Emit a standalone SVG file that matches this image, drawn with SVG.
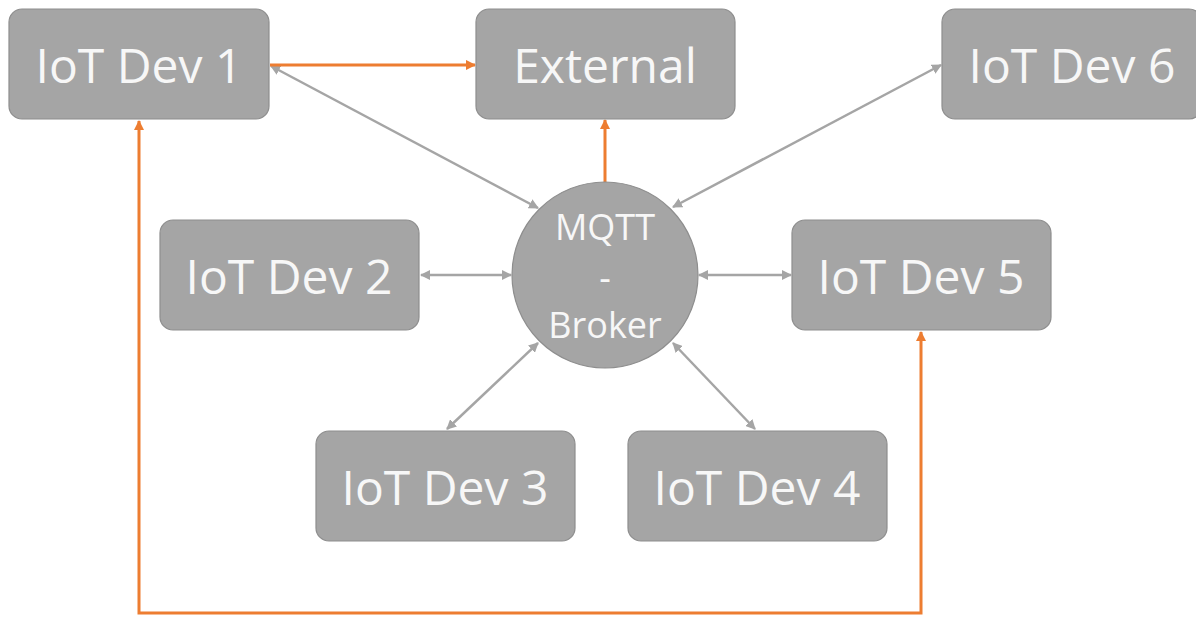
<svg xmlns="http://www.w3.org/2000/svg" width="1196" height="617" viewBox="0 0 1196 617">
<defs>
<style>
.box{fill:#a5a5a5;stroke:#8e8e8e;stroke-width:1.2}
.lbl{font-family:"Open Sans","Noto Sans",sans-serif;font-size:48px;fill:#f7f7f7;text-anchor:middle}
.mq{font-family:"Open Sans","Noto Sans",sans-serif;font-size:36px;fill:#f7f7f7;text-anchor:middle}
.g{stroke:#a5a5a5;stroke-width:2.5;fill:none;marker-start:url(#ga);marker-end:url(#ga)}
.o{stroke:#ed7d31;stroke-width:3;fill:none}
</style>
<marker id="ga" viewBox="0 0 10 10" refX="9" refY="5" markerWidth="4" markerHeight="4" orient="auto-start-reverse" markerUnits="strokeWidth">
<path d="M0,0 L10,5 L0,10 z" fill="#a5a5a5"/>
</marker>
<marker id="oa" viewBox="0 0 10 10" refX="9" refY="5" markerWidth="3.5" markerHeight="3.5" orient="auto-start-reverse" markerUnits="strokeWidth">
<path d="M0,0 L10,5 L0,10 z" fill="#ed7d31"/>
</marker>
</defs>
<rect width="1196" height="617" fill="#ffffff"/>
<g id="connectors">
<line class="g" x1="271" y1="66" x2="538" y2="208"/>
<line class="g" x1="941" y1="65" x2="673" y2="207"/>
<line class="g" x1="421" y1="275" x2="511" y2="275"/>
<line class="g" x1="791" y1="275" x2="699" y2="275"/>
<line class="g" x1="447" y1="429" x2="538" y2="343"/>
<line class="g" x1="755" y1="429" x2="673" y2="343"/>
<line class="o" x1="270" y1="65" x2="475" y2="65" marker-end="url(#oa)"/>
<line class="o" x1="605" y1="183" x2="605" y2="120" marker-end="url(#oa)"/>
<polyline class="o" points="139,121 139,613 921,613 921,332" marker-start="url(#oa)" marker-end="url(#oa)"/>
</g>
<g id="dev1"><rect class="box" x="9" y="9" width="260" height="110" rx="13"/><text class="lbl" x="139" y="83">IoT Dev 1</text></g>
<g id="external"><rect class="box" x="476" y="9" width="259" height="110" rx="13"/><text class="lbl" x="605" y="83">External</text></g>
<g id="dev6"><rect class="box" x="942" y="9" width="260" height="110" rx="13"/><text class="lbl" x="1072" y="83">IoT Dev 6</text></g>
<g id="dev2"><rect class="box" x="160" y="220" width="259" height="110" rx="13"/><text class="lbl" x="289" y="294">IoT Dev 2</text></g>
<g id="dev5"><rect class="box" x="792" y="220" width="259" height="110" rx="13"/><text class="lbl" x="921" y="294">IoT Dev 5</text></g>
<g id="dev3"><rect class="box" x="316" y="431" width="259" height="110" rx="13"/><text class="lbl" x="445" y="505">IoT Dev 3</text></g>
<g id="dev4"><rect class="box" x="628" y="431" width="259" height="110" rx="13"/><text class="lbl" x="757" y="505">IoT Dev 4</text></g>
<g id="broker"><circle class="box" cx="605" cy="275" r="93"/>
<text class="mq" x="605" y="240">MQTT</text>
<text class="mq" x="605" y="291">-</text>
<text class="mq" x="605" y="338">Broker</text></g>
</svg>
